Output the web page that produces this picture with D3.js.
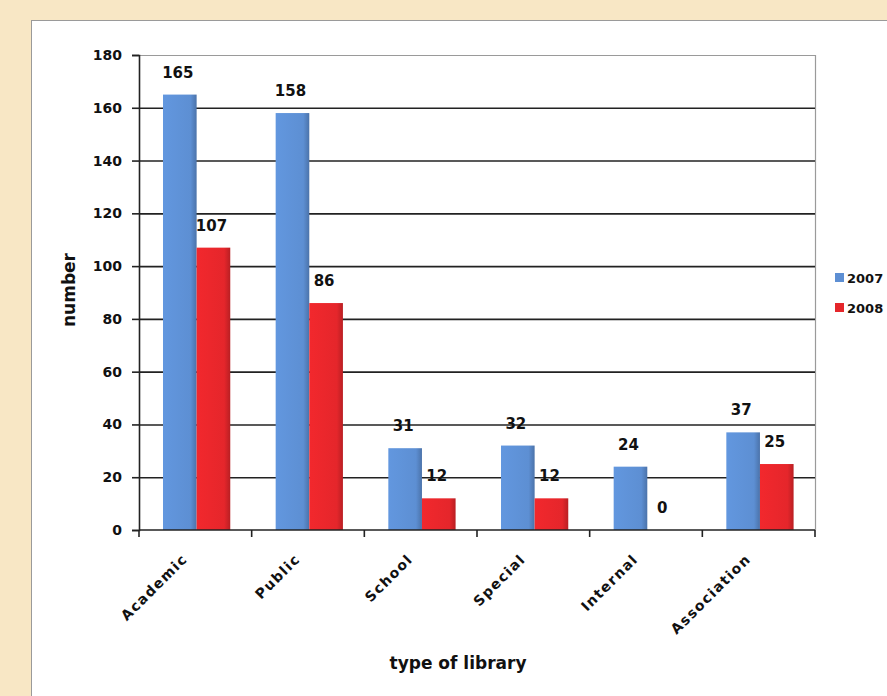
<!DOCTYPE html>
<html>
<head>
<meta charset="utf-8">
<script src="https://cdn.jsdelivr.net/npm/d3@7"></script>
<style>
  html, body { margin: 0; padding: 0; background: #f8e7c5; overflow: hidden; }
  svg { display: block; }
  text { font-family: "DejaVu Sans", Arial, sans-serif; font-weight: bold; fill: #111; }
</style>
</head>
<body>
<svg id="chart" width="887" height="696"></svg>
<script>
const categories = ['Academic', 'Public', 'School', 'Special', 'Internal', 'Association'];
const seriesNames = ['2007', '2008'];
const values2007 = [165, 158, 31, 32, 24, 37];
const values2008 = [107, 86, 12, 12, 0, 25];
const yTicks = [0, 20, 40, 60, 80, 100, 120, 140, 160, 180];
const colors = ['#5d8fd3', '#e5262b'];

const svg = d3.select('#chart');

// page background + white panel
svg.append('rect').attr('width', 887).attr('height', 696).attr('fill', '#f8e7c5');
svg.append('rect')
  .attr('x', 31.5).attr('y', 20.5)
  .attr('width', 900).attr('height', 700)
  .attr('fill', '#fff')
  .attr('stroke', '#9a9a9a');

const margin = { top: 55, right: 72, bottom: 166, left: 139 };
const width = 887 - margin.left - margin.right,
  height = 696 - margin.top - margin.bottom;

const x = d3.scaleBand().domain(categories).range([0, width]);
const x1 = d3.scaleBand().domain(seriesNames)
  .range([x.bandwidth() * 0.213, x.bandwidth() * 0.81]);
const y = d3.scaleLinear().domain([0, 180]).range([height, 0]);

// gradients for the slight 3d look
const defs = svg.append('defs');
colors.forEach(function (c, i) {
  const g = defs.append('linearGradient').attr('id', 'grad' + i)
    .attr('x1', '0%').attr('x2', '100%').attr('y1', '0%').attr('y2', '0%');
  g.append('stop').attr('offset', '0%').attr('stop-color', d3.color(c).brighter(0.15));
  g.append('stop').attr('offset', '82%').attr('stop-color', c);
  g.append('stop').attr('offset', '100%').attr('stop-color', d3.color(c).darker(0.6));
});

const g = svg.append('g')
  .attr('transform', 'translate(' + margin.left + ',' + margin.top + ')');

// plot area frame (top and right)
g.append('path')
  .attr('d', 'M0,0.5H' + (width + 0.5) + 'V' + height)
  .attr('fill', 'none').attr('stroke', '#9a9a9a').attr('stroke-width', 1.2);

// gridlines
g.append('g')
  .attr('class', 'grid')
  .call(d3.axisLeft(y).tickValues(yTicks.filter(function (d) { return d > 0 && d < 180; }))
    .tickSize(-width).tickFormat(''))
  .call(function (s) {
    s.select('.domain').remove();
    s.selectAll('line').attr('stroke', '#222').attr('stroke-width', 1.6);
  });

// bars
const rows = categories.map(function (c, i) {
  return { cat: c, vals: [values2007[i], values2008[i]] };
});

const groups = g.selectAll('.grp')
  .data(rows)
  .enter()
  .append('g')
  .attr('class', 'grp')
  .attr('transform', function (d) { return 'translate(' + x(d.cat) + ',0)'; });

groups.selectAll('rect')
  .data(function (d) { return d.vals.map(function (v, i) { return { s: seriesNames[i], v: v, i: i }; }); })
  .enter()
  .append('rect')
  .attr('x', function (d) { return x1(d.s); })
  .attr('y', function (d) { return y(d.v); })
  .attr('width', x1.bandwidth())
  .attr('height', function (d) { return height - y(d.v); })
  .attr('fill', function (d) { return 'url(#grad' + d.i + ')'; });

groups.selectAll('.val')
  .data(function (d) { return d.vals.map(function (v, i) { return { s: seriesNames[i], v: v }; }); })
  .enter()
  .append('text')
  .attr('class', 'val')
  .text(function (d) { return d.v; })
  .attr('x', function (d) { return x1(d.s) + x1.bandwidth() / 2 - 2; })
  .attr('y', function (d) { return y(d.v) - 17; })
  .attr('font-size', '15px')
  .attr('text-anchor', 'middle');

// y axis
g.append('g')
  .attr('class', 'axis axis--y')
  .call(d3.axisLeft(y).tickValues(yTicks).tickSize(7).tickPadding(10))
  .call(function (s) {
    s.select('.domain').attr('stroke', '#222').attr('stroke-width', 1.6);
    s.selectAll('line').attr('stroke', '#222').attr('stroke-width', 1.6);
    s.selectAll('text').attr('font-size', '14px').attr('font-family', '"DejaVu Sans", Arial, sans-serif')
      .attr('font-weight', 'bold').attr('fill', '#111');
  });

// x axis: line + ticks at band boundaries
const xAxis = g.append('g').attr('class', 'axis axis--x')
  .attr('transform', 'translate(0,' + height + ')');
xAxis.append('line')
  .attr('x1', 0).attr('x2', width)
  .attr('stroke', '#222').attr('stroke-width', 1.6);
xAxis.selectAll('.tk')
  .data(categories.concat(['end']))
  .enter()
  .append('line')
  .attr('class', 'tk')
  .attr('x1', function (d) { return d === 'end' ? width : x(d); })
  .attr('x2', function (d) { return d === 'end' ? width : x(d); })
  .attr('y1', 0).attr('y2', 7)
  .attr('stroke', '#222').attr('stroke-width', 1.6);
xAxis.selectAll('.lbl')
  .data(categories)
  .enter()
  .append('text')
  .attr('class', 'lbl')
  .text(function (d) { return d; })
  .attr('text-anchor', 'end')
  .attr('font-size', '14px')
  .attr('letter-spacing', '1.4px')
  .attr('transform', function (d) {
    return 'translate(' + (x(d) + x.bandwidth() / 2 - 7) + ',30) rotate(-45)';
  });

// axis titles
svg.append('text')
  .text('number')
  .attr('font-size', '17px')
  .attr('text-anchor', 'middle')
  .attr('transform', 'translate(75,290) rotate(-90)');

svg.append('text')
  .text('type of library')
  .attr('font-size', '17px')
  .attr('text-anchor', 'middle')
  .attr('x', 458)
  .attr('y', 669);

// legend, squeezed into the space at the right edge
const legend = svg.append('g').attr('transform', 'translate(835,273)');
const li = legend.selectAll('g')
  .data(seriesNames)
  .enter()
  .append('g')
  .attr('transform', function (d, i) { return 'translate(0,' + (i * 30) + ')'; });
li.append('rect')
  .attr('width', 9).attr('height', 9)
  .attr('fill', function (d, i) { return colors[i]; });
li.append('text')
  .text(function (d) { return d; })
  .attr('x', 12)
  .attr('y', 10)
  .attr('font-size', '13px');
</script>
</body>
</html>
